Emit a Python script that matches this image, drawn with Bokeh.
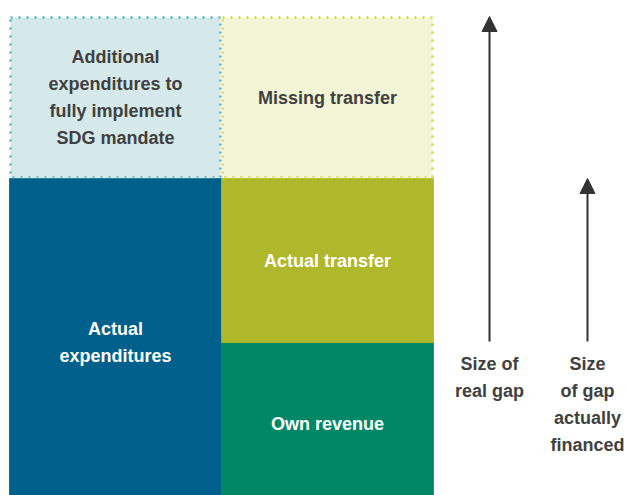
from bokeh.plotting import figure
from bokeh.models import ColumnDataSource, Arrow, NormalHead
from bokeh.core.properties import value
from bokeh.embed import file_html
from bokeh.resources import INLINE

# ---- data (arbitrary units, conceptual diagram) ----
left_labels = ["Actual\nexpenditures", "Additional\nexpenditures to\nfully implement\nSDG mandate"]
left_values = [327, 162]
right_labels = ["Own revenue", "Actual transfer", "Missing transfer"]
right_values = [163, 164, 162]
arrow_labels = ["Size of\nreal gap", "Size\nof gap\nactually\nfinanced"]

# styles
left_fill = ["#00608c", "#d6e9ea"]
left_line = [None, "#4db6bf"]
left_text = ["white", "#404040"]
right_fill = ["#008866", "#aeb82a", "#f1f5d5"]
right_line = [None, None, "#d2dd3a"]
right_text = ["white", "white", "#404040"]

W, H = 627, 495
p = figure(width=W, height=H, x_range=(0, 627), y_range=(10, 505),
           output_backend="svg", toolbar_location=None, min_border=0)
p.axis.visible = False
p.grid.visible = False
p.outline_line_color = None
p.background_fill_color = "white"
p.border_fill_color = "white"

FONT = value("Liberation Sans")
LH = 1.35

def column(x0, x1, vals, fills, lines, tcolors, labels):
    bottoms, tops = [], []
    acc = 0
    for v in vals:
        bottoms.append(acc)
        acc += v
        tops.append(acc)
    solid = [i for i in range(len(vals)) if lines[i] is None]
    dotted = [i for i in range(len(vals)) if lines[i] is not None]
    src_s = ColumnDataSource(dict(l=[x0]*len(solid), r=[x1]*len(solid),
                                  b=[bottoms[i] for i in solid], t=[tops[i] for i in solid],
                                  c=[fills[i] for i in solid]))
    p.quad(left="l", right="r", bottom="b", top="t", fill_color="c", line_color="c",
           line_width=0.8, source=src_s)
    src_d = ColumnDataSource(dict(l=[x0+1]*len(dotted), r=[x1-1]*len(dotted),
                                  b=[bottoms[i]+1 for i in dotted], t=[tops[i]-1 for i in dotted],
                                  c=[fills[i] for i in dotted], lc=[lines[i] for i in dotted]))
    p.quad(left="l", right="r", bottom="b", top="t", fill_color="c", line_color="lc",
           line_width=2.5, line_dash="2 6", source=src_d)
    src_t = ColumnDataSource(dict(x=[(x0+x1)/2]*len(vals),
                                  y=[(b+t)/2 for b, t in zip(bottoms, tops)],
                                  text=labels, c=tcolors))
    p.text(x="x", y="y", text="text", text_color="c", source=src_t,
           text_align="center", text_baseline="middle", text_font=FONT,
           text_font_style="bold", text_font_size="18px", text_line_height=LH)
    return bottoms, tops

column(9, 221, left_values, left_fill, left_line, left_text, left_labels)
rb, rt = column(221, 433, right_values, right_fill, right_line, right_text, right_labels)

# arrows: real gap = actual + missing transfer; financed gap = actual transfer
arrow_x = [489, 587]
arrow_top = [rt[2], rt[1]]
base = rt[0]
for ax, at in zip(arrow_x, arrow_top):
    p.add_layout(Arrow(end=NormalHead(size=15, fill_color="#333333", line_color="#333333", line_width=1),
                       x_start=ax, y_start=base + 1, x_end=ax, y_end=at,
                       line_color="#333333", line_width=2))

src_a = ColumnDataSource(dict(x=arrow_x, y=[base]*2, text=arrow_labels))
p.text(x="x", y="y", text="text", source=src_a, text_color="#404040",
       text_align="center", text_baseline="top", y_offset=11, text_font=FONT,
       text_font_style="bold", text_font_size="18px", text_line_height=LH)

open("out.html", "w").write(file_html(p, INLINE))
